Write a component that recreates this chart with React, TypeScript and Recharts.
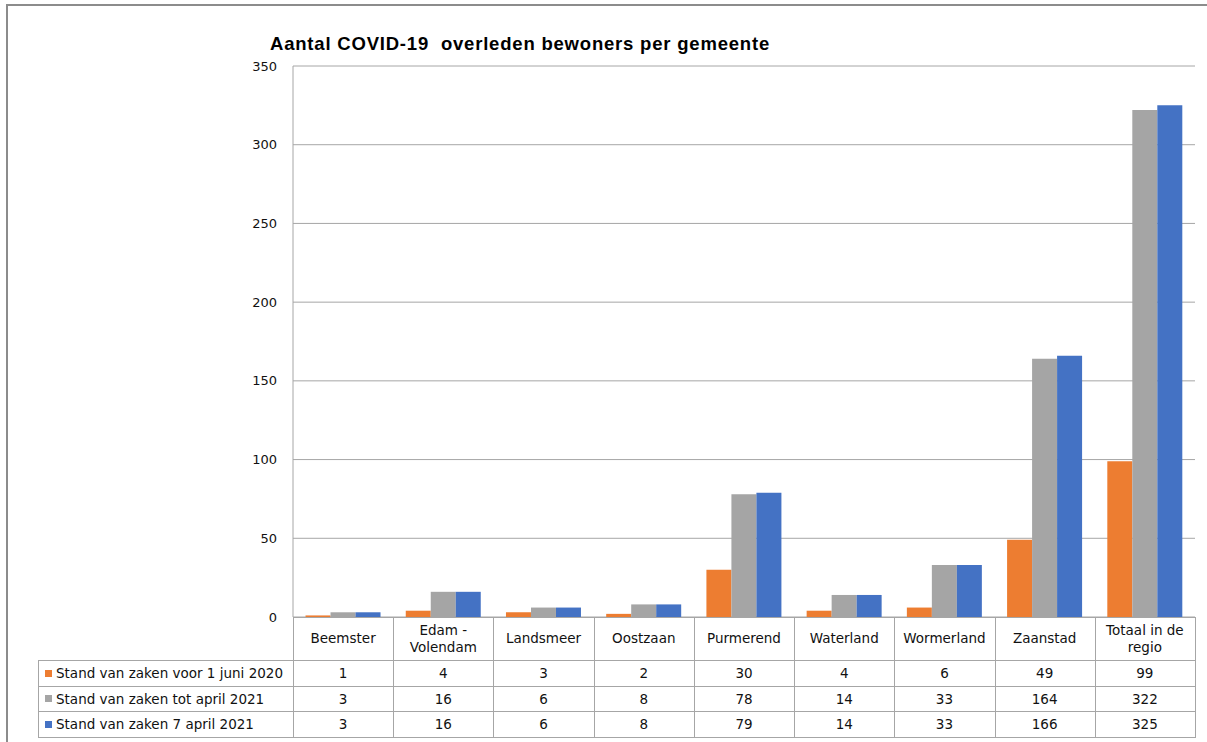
import React from 'react';
import { BarChart, Bar, XAxis, YAxis, CartesianGrid } from 'recharts';

// gemeenten en waarden
const categories = [
  'Beemster', 'Edam -\nVolendam', 'Landsmeer', 'Oostzaan', 'Purmerend',
  'Waterland', 'Wormerland', 'Zaanstad', 'Totaal in de\nregio',
];
const voorJuni2020 = [1, 4, 3, 2, 30, 4, 6, 49, 99];
const totApril2021 = [3, 16, 6, 8, 78, 14, 33, 164, 322];
const april7_2021 = [3, 16, 6, 8, 79, 14, 33, 166, 325];
const yTicks = [0, 50, 100, 150, 200, 250, 300, 350];

const series = [
  { key: 'a', name: 'Stand van zaken voor 1 juni 2020', color: '#ED7D31', values: voorJuni2020 },
  { key: 'b', name: 'Stand van zaken tot april 2021', color: '#A5A5A5', values: totApril2021 },
  { key: 'c', name: 'Stand van zaken 7 april 2021', color: '#4472C4', values: april7_2021 },
];

const data = categories.map((c, i) => ({
  name: c,
  a: voorJuni2020[i],
  b: totApril2021[i],
  c: april7_2021[i],
}));

const W = 1207;
const H = 742;
const PLOT_L = 293;
const PLOT_R = 1195;
const PLOT_T = 66;
const PLOT_B = 617;
const COL_W = (PLOT_R - PLOT_L) / categories.length;
const TABLE_L = 38;
const HEADER_B = 660;
const ROWS = [660, 686, 711, 737];
const LINE = '#a6a6a6';
const FONT = '"DejaVu Sans", Verdana, sans-serif';

const hLine = (y: number, x1: number, x2: number, k: string) => (
  <div key={k} style={{ position: 'absolute', left: x1, top: y, width: x2 - x1 + 1, height: 1, background: LINE }} />
);
const vLine = (x: number, y1: number, y2: number, k: string) => (
  <div key={k} style={{ position: 'absolute', left: x, top: y1, width: 1, height: y2 - y1 + 1, background: LINE }} />
);

function DataTable() {
  const items: React.ReactNode[] = [];
  // lijnen
  items.push(hLine(PLOT_B, PLOT_L, PLOT_R, 'h0'));
  ROWS.forEach((y, i) => items.push(hLine(y, TABLE_L, PLOT_R, 'h' + (i + 1))));
  items.push(vLine(TABLE_L, HEADER_B, ROWS[3], 'vl'));
  for (let i = 0; i <= categories.length; i++) {
    items.push(vLine(Math.round(PLOT_L + i * COL_W), PLOT_B, ROWS[3], 'v' + i));
  }
  // kopregel
  categories.forEach((c, i) => {
    items.push(
      <div key={'c' + i} style={{
        position: 'absolute', left: PLOT_L + i * COL_W, top: PLOT_B, width: COL_W, height: HEADER_B - PLOT_B,
        display: 'flex', alignItems: 'center', justifyContent: 'center', textAlign: 'center',
        whiteSpace: 'pre-line', lineHeight: '17px',
      }}>{c}</div>
    );
  });
  // rijen
  series.forEach((s, r) => {
    const top = ROWS[r];
    const h = ROWS[r + 1] - ROWS[r];
    items.push(
      <div key={'l' + r} style={{
        position: 'absolute', left: TABLE_L + 7, top, height: h, display: 'flex', alignItems: 'center', whiteSpace: 'nowrap',
      }}>
        <span style={{ display: 'inline-block', width: 7, height: 7, background: s.color, marginRight: 4 }} />
        {s.name}
      </div>
    );
    s.values.forEach((v, i) => {
      items.push(
        <div key={'d' + r + '-' + i} style={{
          position: 'absolute', left: PLOT_L + i * COL_W, top, width: COL_W, height: h,
          display: 'flex', alignItems: 'center', justifyContent: 'center',
        }}>{v}</div>
      );
    });
  });
  return <>{items}</>;
}

export default function App() {
  return (
    <div style={{
      position: 'absolute', left: 0, top: 0, width: W, height: H, overflow: 'hidden',
      background: '#fff', fontFamily: FONT, fontSize: 13.5, color: '#111',
    }}>
      {/* buitenrand */}
      <div style={{ position: 'absolute', left: 6, top: 4, width: W, height: H, borderLeft: '2px solid #8c8c8c', borderTop: '2px solid #8c8c8c' }} />
      <div style={{
        position: 'absolute', left: 270, top: 33, fontFamily: '"Liberation Sans", Arial, sans-serif',
        fontWeight: 'bold', fontSize: 18.5, letterSpacing: 0.8, whiteSpace: 'pre', color: '#000',
      }}>
        {'Aantal COVID-19  overleden bewoners per gemeente'}
      </div>
      <div style={{ position: 'absolute', left: 0, top: 0 }}>
        <BarChart
          width={W}
          height={H}
          data={data}
          margin={{ top: PLOT_T, right: W - PLOT_R, bottom: H - PLOT_B, left: PLOT_L - 60 }}
          barCategoryGap="12.5%"
          barGap={0}
        >
          <CartesianGrid vertical={false} stroke={LINE} strokeDasharray="" />
          <XAxis dataKey="name" hide />
          <YAxis
            width={60}
            domain={[0, 350]}
            ticks={yTicks}
            interval={0}
            tickLine={false}
            axisLine={{ stroke: LINE }}
            tickMargin={10}
            tick={{ fill: '#111', fontSize: 13, fontFamily: FONT }}
          />
          {series.map((s) => (
            <Bar key={s.key} dataKey={s.key} name={s.name} fill={s.color} isAnimationActive={false} />
          ))}
        </BarChart>
      </div>
      <DataTable />
    </div>
  );
}
